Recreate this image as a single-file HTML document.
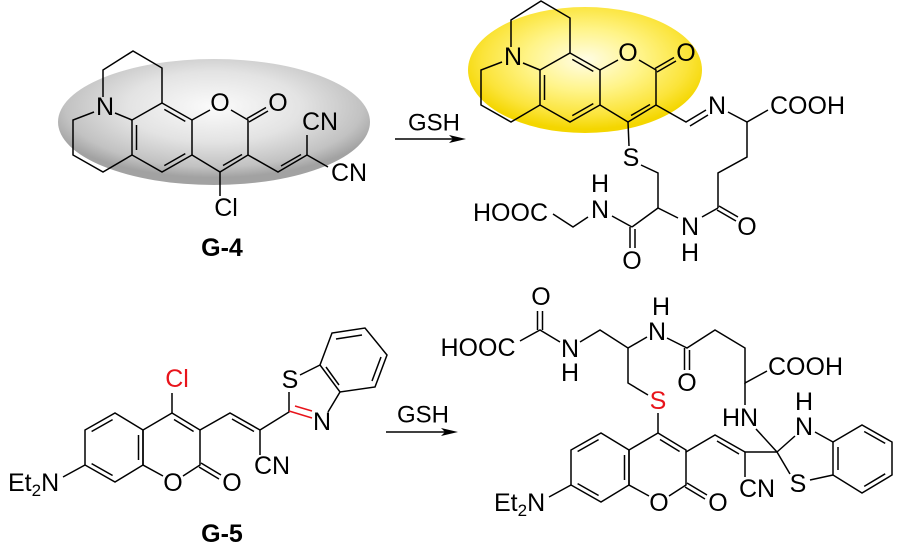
<!DOCTYPE html>
<html><head><meta charset="utf-8"><style>
html,body{margin:0;padding:0;background:#fff;}
svg{display:block;}
text{font-family:"Liberation Sans",Arial,sans-serif;font-size:25px;fill:#000;}
</style></head><body>
<svg width="900" height="557" viewBox="0 0 900 557" xmlns="http://www.w3.org/2000/svg">
<defs>
<radialGradient id="gg" cx="0.5" cy="0.38" r="0.56">
<stop offset="0" stop-color="#fbfbfb"/><stop offset="0.5" stop-color="#e3e3e3"/><stop offset="0.85" stop-color="#c2c2c2"/><stop offset="1" stop-color="#a2a2a2"/>
</radialGradient>
<radialGradient id="yg" cx="0.5" cy="0.42" r="0.55">
<stop offset="0" stop-color="#fffde6"/><stop offset="0.45" stop-color="#fff488"/><stop offset="0.8" stop-color="#fbe43a"/><stop offset="1" stop-color="#f4d600"/>
</radialGradient>
</defs>
<rect width="900" height="557" fill="#fff"/>
<ellipse cx="214" cy="122" rx="156" ry="63" fill="url(#gg)"/>
<ellipse cx="585" cy="70" rx="117" ry="63" fill="url(#yg)"/>

<g stroke="#000" stroke-width="1.5" fill="none">
<!-- G-4 core -->
<g>
<path d="M103,97 L103,70 L133,51 L162,68 L162,103"/>
<path d="M115,113 L132,120"/>
<path d="M94,112 L73,120 L73,155 L103,172 L132,155"/>
<polygon points="162,103 192,120 192,155 162,172 132,155 132,120"/>
<path d="M164.3,109.4 L185.3,121.4 M185.3,153.6 L164.3,165.6 M136.5,150 L136.5,125"/>
<path d="M192,120 L210,110 M231,110 L248,120 L248,155 L220,172 L192,155"/>
<path d="M223,165.5 L242,154.5"/>
<path d="M249,122 L268,111 M247,118.5 L266,107.5"/>
</g>
<path d="M220,172 L220,196"/>
<path d="M248,155 L278,172 L307,155 M281,166 L301,154.5"/>
<path d="M307,155 L307,135 M307,155 L328,167"/>

<!-- Product 1 core -->
<g transform="translate(408,-50)">
<path d="M103,97 L103,70 L133,51 L162,68 L162,103"/>
<path d="M115,113 L132,120"/>
<path d="M94,112 L73,120 L73,155 L103,172 L132,155"/>
<polygon points="162,103 192,120 192,155 162,172 132,155 132,120"/>
<path d="M164.3,109.4 L185.3,121.4 M185.3,153.6 L164.3,165.6 M136.5,150 L136.5,125"/>
<path d="M192,120 L210,110 M231,110 L248,120 L248,155 L220,172 L192,155"/>
<path d="M223,165.5 L242,154.5"/>
<path d="M249,122 L268,111 M247,118.5 L266,107.5"/>
</g>
<path d="M628,122 L629,146"/>
<path d="M641,165 L658,173 L658,208"/>
<path d="M656,105 L686,122 L706,110 M690,126 L708,115"/>
<path d="M728,112 L747,122 L768,110"/>
<path d="M747,122 L747,157 L718,173 L718,208"/>
<path d="M717,210 L736,221 M719,206 L738,217"/>
<path d="M718,208 L702,217"/>
<path d="M678,218 L658,208 L632,227"/>
<path d="M630,227 L630,248 M635,229 L635,248"/>
<path d="M632,227 L612,216"/>
<path d="M588,217 L573,227 L553,214"/>

<!-- G-5 coumarin core -->
<g>
<path d="M172,413 L200,430 L200,465 L183,476 M163,476 L143,465 L143,430 L172,413"/>
<polygon points="143,430 115,413 85,430 85,465 115,482 143,465"/>
<path d="M112.6,419.6 L91.6,431.5 M138.5,435 L138.5,460 M91.6,463.6 L112.6,475.5 M174,419.5 L193.6,431.5"/>
<path d="M199,467 L219,479 M201,463 L221,475"/>
<path d="M63,477 L85,465"/>
</g>
<path d="M172,413 L172,393"/>
<path d="M200,430 L230,413 L260,430 M232,419 L254,431.5"/>
<path d="M260,430 L260,455 M260,430 L289,412 L289,392"/>
<path d="M300,375 L320,365 M328,412 L340,392"/>
<polygon points="320,365 332,333 365,328 387,355 375,387 340,392"/>
<path d="M336,339 L362,335 M381,357 L372,381 M326,367 L339,385"/>

<!-- Product 2 coumarin core -->
<g transform="translate(486,20)">
<path d="M172,413 L200,430 L200,465 L183,476 M163,476 L143,465 L143,430 L172,413"/>
<polygon points="143,430 115,413 85,430 85,465 115,482 143,465"/>
<path d="M112.6,419.6 L91.6,431.5 M138.5,435 L138.5,460 M91.6,463.6 L112.6,475.5 M174,419.5 L193.6,431.5"/>
<path d="M199,467 L219,479 M201,463 L221,475"/>
<path d="M63,477 L85,465"/>
</g>
<path d="M658,433 L658,413"/>
<path d="M648,395 L628,383 L628,348 L600,330 L580,342"/>
<path d="M560,342 L540,330 L520,341"/>
<path d="M537.5,330 L537.5,311 M542.5,330 L542.5,311"/>
<path d="M628,348 L647,337"/>
<path d="M667,338 L687,348 L715,330 L745,348 L745,383 L767,371"/>
<path d="M684.5,348 L684.5,370 M689.5,350 L689.5,370"/>
<path d="M745,383 L745,405"/>
<path d="M686,452 L715,435 L745,452 M717,441 L739,454"/>
<path d="M745,452 L745,477 M745,452 L777,452"/>
<path d="M777,452 L756,429 M777,452 L795,436 M777,452 L790,474"/>
<path d="M815,432 L833,442 M810,480 L833,475"/>
<polygon points="833,442 862,425 892,442 892,475 862,493 833,475"/>
<path d="M838,447 L838,470 M864.2,431.5 L885.2,443.4 M885.2,473.8 L864.2,486.4"/>

<!-- arrows -->
<path d="M395,139 L455,139"/>
<path d="M386,432 L447,432"/>
</g>
<g stroke="#e8141b" stroke-width="1.5" fill="none">
<path d="M289,411 L312,418 M295,406 L312,411"/>
</g>
<polygon points="466,139 449,135 453,139 449,143" fill="#000"/>
<polygon points="458,432 441,428 445,432 441,436" fill="#000"/>

<g dominant-baseline="central" text-anchor="middle">
<!-- labels G-4 -->
<text x="105" y="107">N</text>
<text x="220" y="103">O</text>
<text x="278" y="103">O</text>
<text x="320" y="122">CN</text>
<text x="349" y="173">CN</text>
<text x="226" y="208">Cl</text>
<text x="222" y="248" style="font-weight:bold">G-4</text>
<text x="434" y="123" style="font-size:24px">GSH</text>

<!-- product 1 -->
<text x="513" y="57">N</text>
<text x="628" y="53">O</text>
<text x="686" y="53">O</text>
<text x="631" y="158">S</text>
<text x="717" y="106">N</text>
<text x="770" y="106" text-anchor="start">COOH</text>
<text x="747" y="227">O</text>
<text x="690" y="227">N</text>
<text x="690" y="253">H</text>
<text x="632" y="261">O</text>
<text x="600" y="210">N</text>
<text x="600" y="184">H</text>
<text x="548" y="213" text-anchor="end">HOOC</text>

<!-- G-5 -->
<text x="177" y="379" style="fill:#e8141b">Cl</text>
<text x="173" y="483">O</text>
<text x="232" y="483">O</text>
<text x="8" y="483" text-anchor="start">Et<tspan style="font-size:17px" dy="7">2</tspan><tspan dy="-7">N</tspan></text>
<text x="272" y="466">CN</text>
<text x="290" y="380">S</text>
<text x="322" y="422">N</text>
<text x="222" y="534" style="font-weight:bold">G-5</text>
<text x="423" y="415" style="font-size:24px">GSH</text>

<!-- product 2 -->
<text x="478" y="348">HOOC</text>
<text x="541" y="297">O</text>
<text x="570" y="349">N</text>
<text x="570" y="373">H</text>
<text x="657" y="332">N</text>
<text x="661" y="307">H</text>
<text x="687" y="383">O</text>
<text x="768" y="367" text-anchor="start">COOH</text>
<text x="658" y="401" style="fill:#e8141b">S</text>
<text x="740" y="418">HN</text>
<text x="804" y="427">N</text>
<text x="804" y="402">H</text>
<text x="798" y="484">S</text>
<text x="757" y="489">CN</text>
<text x="659" y="503">O</text>
<text x="718" y="503">O</text>
<text x="494" y="503" text-anchor="start">Et<tspan style="font-size:17px" dy="7">2</tspan><tspan dy="-7">N</tspan></text>
</g>
</svg>
</body></html>
